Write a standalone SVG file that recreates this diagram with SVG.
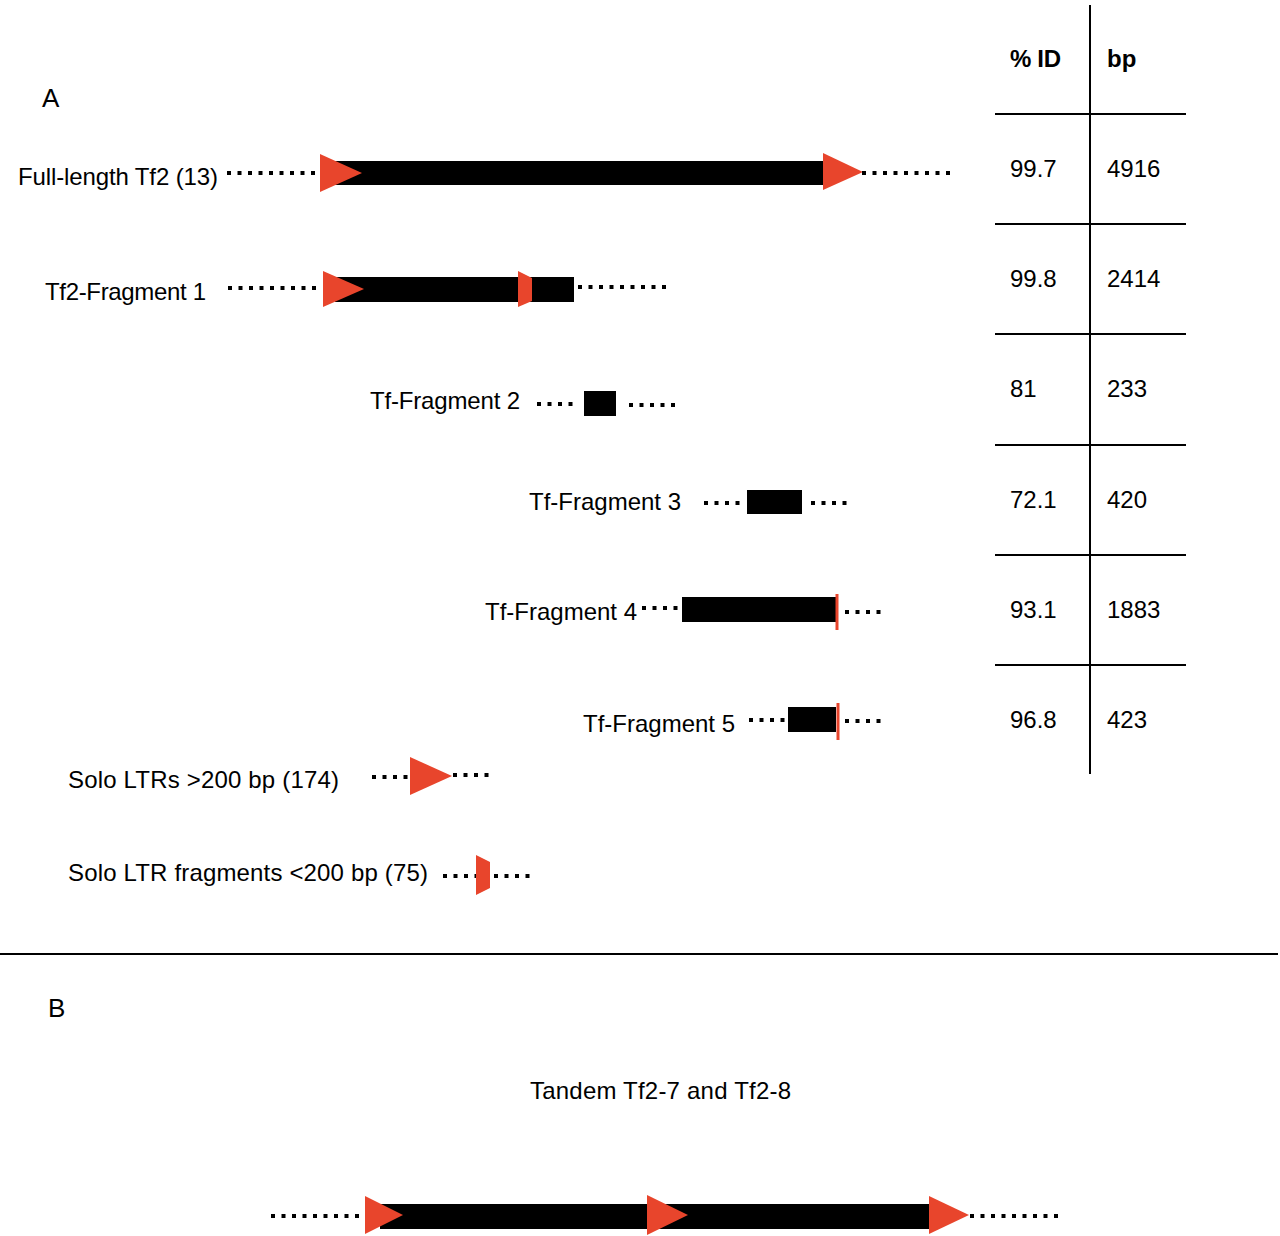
<svg xmlns="http://www.w3.org/2000/svg" width="1280" height="1236" viewBox="0 0 1280 1236">
<style>
text{font-family:"Liberation Sans",Arial,sans-serif;font-size:24px;fill:#000}
.b{font-weight:bold}
.dots{stroke:#000;stroke-width:4;stroke-dasharray:4 6.5;fill:none}
.bar{fill:#000}
.ltr{fill:#e8452c}
.rl{stroke:#e8452c;stroke-width:3}
.tl{stroke:#000;stroke-width:2;fill:none}
</style>
<rect width="1280" height="1236" fill="#fff"/>
<text x="42" y="107" style="font-size:26px">A</text>
<text x="48" y="1017" style="font-size:26px">B</text>

<g id="table">
<line class="tl" x1="1090" y1="5" x2="1090" y2="774"/>
<line class="tl" x1="995" y1="114" x2="1186" y2="114"/>
<line class="tl" x1="995" y1="224" x2="1186" y2="224"/>
<line class="tl" x1="995" y1="334" x2="1186" y2="334"/>
<line class="tl" x1="995" y1="445" x2="1186" y2="445"/>
<line class="tl" x1="995" y1="555" x2="1186" y2="555"/>
<line class="tl" x1="995" y1="665" x2="1186" y2="665"/>
<text class="b" x="1010" y="67" textLength="51">% ID</text>
<text class="b" x="1107" y="67">bp</text>
<text x="1010" y="177">99.7</text><text x="1107" y="177">4916</text>
<text x="1010" y="287">99.8</text><text x="1107" y="287">2414</text>
<text x="1010" y="397">81</text><text x="1107" y="397">233</text>
<text x="1010" y="508">72.1</text><text x="1107" y="508">420</text>
<text x="1010" y="618">93.1</text><text x="1107" y="618">1883</text>
<text x="1010" y="728">96.8</text><text x="1107" y="728">423</text>
</g>

<g id="full-length">
<text x="18" y="185" textLength="200">Full-length Tf2 (13)</text>
<line class="dots" x1="227" y1="173" x2="317" y2="173"/>
<rect class="bar" x="333" y="161" width="492" height="24"/>
<polygon class="ltr" points="320,154 362,173 320,192"/>
<polygon class="ltr" points="823,153 863,172 823,190"/>
<line class="dots" x1="862" y1="173" x2="952" y2="173"/>
</g>

<g id="fragment1">
<text x="45" y="300" textLength="161">Tf2-Fragment 1</text>
<line class="dots" x1="228" y1="288" x2="318" y2="288"/>
<rect class="bar" x="335" y="277" width="239" height="25"/>
<polygon class="ltr" points="323,271 364,289 323,307"/>
<polygon class="ltr" points="518,271 532,278 532,301 518,307"/>
<line class="dots" x1="578" y1="287" x2="668" y2="287"/>
</g>

<g id="fragment2">
<text x="370" y="409" textLength="150">Tf-Fragment 2</text>
<line class="dots" x1="537" y1="404" x2="575" y2="404"/>
<rect class="bar" x="584" y="391" width="32" height="25"/>
<line class="dots" x1="629" y1="405" x2="677" y2="405"/>
</g>

<g id="fragment3">
<text x="529" y="510" textLength="152">Tf-Fragment 3</text>
<line class="dots" x1="704" y1="503" x2="742" y2="503"/>
<rect class="bar" x="747" y="490" width="55" height="24"/>
<line class="dots" x1="811" y1="503" x2="849" y2="503"/>
</g>

<g id="fragment4">
<text x="485" y="620" textLength="152">Tf-Fragment 4</text>
<line class="dots" x1="642" y1="608" x2="680" y2="608"/>
<rect class="bar" x="682" y="597" width="154" height="25"/>
<line class="rl" x1="837" y1="594" x2="837" y2="630"/>
<line class="dots" x1="845" y1="612" x2="883" y2="612"/>
</g>

<g id="fragment5">
<text x="583" y="732" textLength="152">Tf-Fragment 5</text>
<line class="dots" x1="749" y1="720" x2="787" y2="720"/>
<rect class="bar" x="788" y="707" width="48" height="25"/>
<line class="rl" x1="838" y1="703" x2="838" y2="740"/>
<line class="dots" x1="845" y1="721" x2="883" y2="721"/>
</g>

<g id="solo-ltrs">
<text x="68" y="788" textLength="271">Solo LTRs &gt;200 bp (174)</text>
<line class="dots" x1="372" y1="777" x2="410" y2="777"/>
<polygon class="ltr" points="410,757 452,776 410,795"/>
<line class="dots" x1="453" y1="775" x2="491" y2="775"/>
</g>

<g id="solo-ltr-fragments">
<text x="68" y="881" textLength="360">Solo LTR fragments &lt;200 bp (75)</text>
<line class="dots" x1="443" y1="876" x2="481" y2="876"/>
<polygon class="ltr" points="476,855 490,862 490,888 476,895"/>
<line class="dots" x1="494" y1="876" x2="532" y2="876"/>
</g>

<line x1="0" y1="954" x2="1278" y2="954" stroke="#000" stroke-width="2"/>

<g id="tandem">
<text x="530" y="1099" textLength="261">Tandem Tf2-7 and Tf2-8</text>
<line class="dots" x1="271" y1="1216" x2="361" y2="1216"/>
<rect class="bar" x="380" y="1204" width="551" height="25"/>
<polygon class="ltr" points="365,1196 403,1215 365,1234"/>
<polygon class="ltr" points="647,1195 688,1215 647,1235"/>
<polygon class="ltr" points="929,1196 969,1215 929,1234"/>
<line class="dots" x1="970" y1="1216" x2="1060" y2="1216"/>
</g>
</svg>
